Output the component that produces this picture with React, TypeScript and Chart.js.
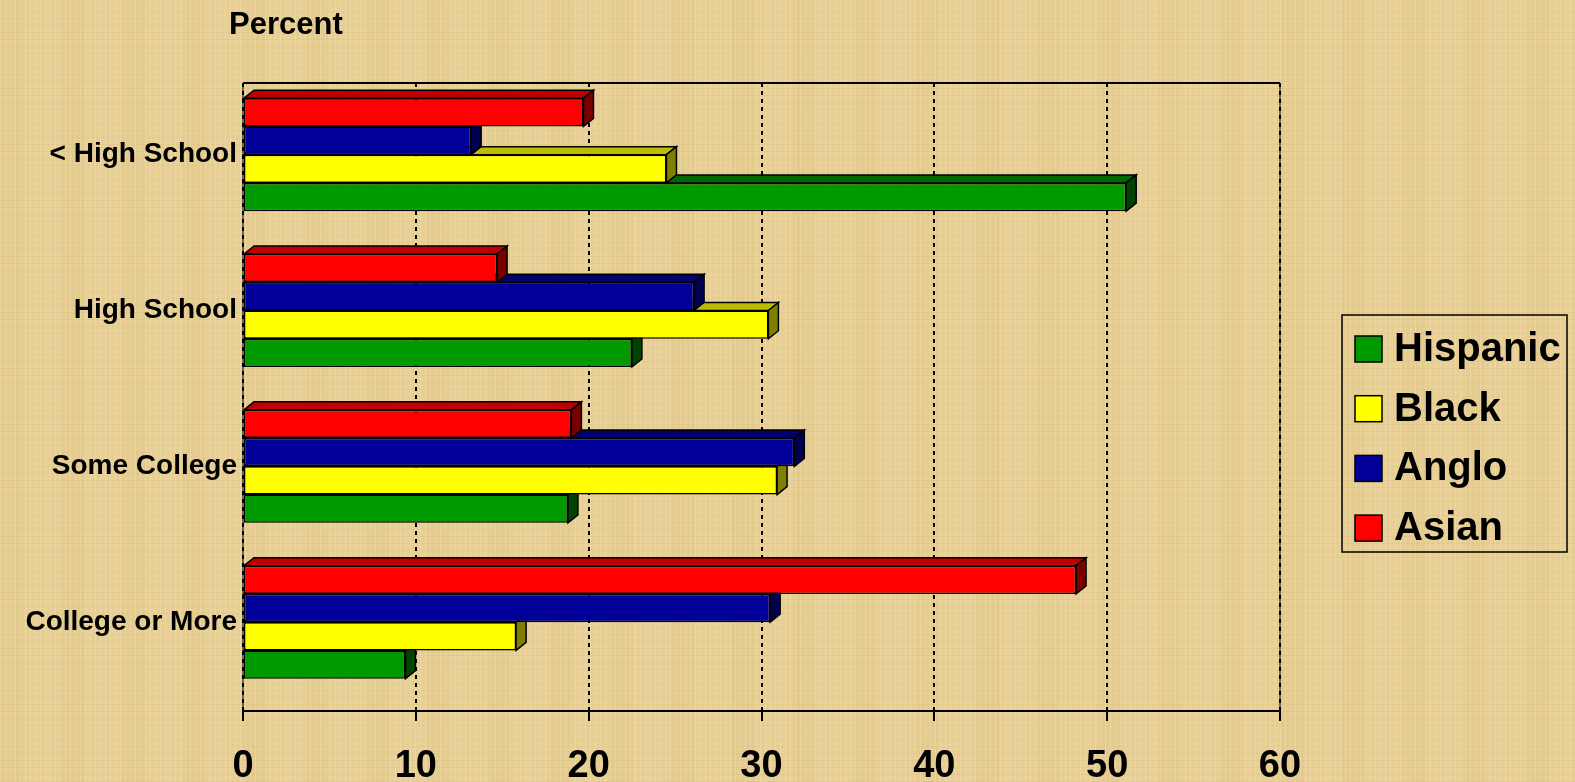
import React, { useEffect, useRef } from "react";
import { Chart, registerables } from "chart.js";

Chart.register(...registerables);

// ---------- data ----------
const categories = ["< High School", "High School", "Some College", "College or More"];
const asianValues = [19.7, 14.7, 19.0, 48.2];
const angloValues = [13.2, 26.1, 31.9, 30.5];
const blackValues = [24.5, 30.4, 30.9, 15.8];
const hispanicValues = [51.1, 22.5, 18.8, 9.4];
const xTickStep = 10;
const xMin = 0;
const xMax = 60;
const axisTitle = "Percent";

const FONT = "'Liberation Sans', Arial, Helvetica, sans-serif";

const seriesStyle: Record<string, { front: string; top: string; side: string }> = {
  Asian: { front: "#FF0000", top: "#C00000", side: "#7A0000" },
  Anglo: { front: "#000099", top: "#000070", side: "#000050" },
  Black: { front: "#FFFF00", top: "#BDBD00", side: "#808000" },
  Hispanic: { front: "#009900", top: "#006800", side: "#004400" },
};

const seriesList: [string, number[]][] = [
  ["Asian", asianValues],
  ["Anglo", angloValues],
  ["Black", blackValues],
  ["Hispanic", hispanicValues],
];

// 3D faces drawn after each dataset, using the bar elements' own geometry
const depthPlugin = {
  id: "depth3d",
  afterDatasetDraw(chart: any, args: any) {
    const meta = args.meta;
    const ds = chart.data.datasets[args.index];
    const st = seriesStyle[ds.label];
    const ctx = chart.ctx;
    const dx = 10;
    const dy = 8;
    ctx.save();
    ctx.lineWidth = 1.5;
    ctx.strokeStyle = "#000";
    meta.data.forEach((el: any) => {
      const { x, y, base, height } = el.getProps(["x", "y", "base", "height"], true);
      const t = y - height / 2;
      const b = y + height / 2;
      ctx.beginPath();
      ctx.moveTo(base, t);
      ctx.lineTo(base + dx, t - dy);
      ctx.lineTo(x + dx, t - dy);
      ctx.lineTo(x, t);
      ctx.closePath();
      ctx.fillStyle = st.top;
      ctx.fill();
      ctx.stroke();
      ctx.beginPath();
      ctx.moveTo(x, t);
      ctx.lineTo(x + dx, t - dy);
      ctx.lineTo(x + dx, b - dy);
      ctx.lineTo(x, b);
      ctx.closePath();
      ctx.fillStyle = st.side;
      ctx.fill();
      ctx.stroke();
    });
    ctx.restore();
  },
};

// plot frame (top solid line, thin sides)
const framePlugin = {
  id: "frame",
  beforeDatasetsDraw(chart: any) {
    const { ctx, chartArea } = chart;
    const { left, right, top, bottom } = chartArea;
    ctx.save();
    ctx.strokeStyle = "#000";
    ctx.lineWidth = 2;
    ctx.beginPath();
    ctx.moveTo(left, top);
    ctx.lineTo(right, top);
    ctx.stroke();
    ctx.lineWidth = 1;
    ctx.beginPath();
    ctx.moveTo(left, top);
    ctx.lineTo(left, bottom);
    ctx.moveTo(right, top);
    ctx.lineTo(right, bottom);
    ctx.stroke();
    ctx.restore();
  },
};

// "Percent" caption and boxed legend
const textPlugin = {
  id: "texts",
  afterDraw(chart: any) {
    const ctx = chart.ctx;
    ctx.save();
    ctx.fillStyle = "#000";
    ctx.font = `bold 31px ${FONT}`;
    ctx.textAlign = "left";
    ctx.textBaseline = "middle";
    ctx.fillText(axisTitle, 229, 25);

    const bx = 1342;
    const by = 315;
    const bw = 225;
    const bh = 237;
    ctx.lineWidth = 1.5;
    ctx.strokeStyle = "#000";
    ctx.strokeRect(bx, by, bw, bh);
    const items = [...chart.data.datasets].reverse();
    const rowGap = 59.7;
    items.forEach((ds: any, i: number) => {
      const cy = by + 34 + i * rowGap;
      const st = seriesStyle[ds.label];
      ctx.fillStyle = st.front;
      ctx.fillRect(1355, cy - 13, 27, 26);
      ctx.lineWidth = 1.5;
      ctx.strokeRect(1355, cy - 13, 27, 26);
      ctx.fillStyle = "#000";
      ctx.font = `bold 40px ${FONT}`;
      ctx.textBaseline = "middle";
      ctx.fillText(ds.label, 1394, cy + 1);
    });
    ctx.restore();
  },
};

export default function App() {
  const canvasRef = useRef<HTMLCanvasElement | null>(null);

  useEffect(() => {
    if (!canvasRef.current) return;
    const chart = new Chart(canvasRef.current, {
      type: "bar",
      data: {
        datasets: seriesList.map(([name, vals]) => ({
          label: name,
          data: vals.map((v, i) => ({ x: v, y: i })),
          backgroundColor: seriesStyle[name].front,
          borderColor: "#000",
          borderWidth: 1.5,
          borderSkipped: false,
          categoryPercentage: 0.725,
          barPercentage: 1.0,
        })),
      },
      plugins: [framePlugin, depthPlugin, textPlugin],
      options: {
        indexAxis: "y",
        animation: false,
        responsive: true,
        maintainAspectRatio: false,
        layout: { padding: { top: 83, right: 295, left: 0, bottom: 0 } },
        plugins: {
          legend: { display: false },
          tooltip: { enabled: false },
          title: { display: false },
        },
        scales: {
          x: {
            type: "linear",
            position: "bottom",
            min: xMin,
            max: xMax,
            ticks: {
              stepSize: xTickStep,
              color: "#000",
              font: { family: FONT, size: 38, weight: "bold" },
              padding: 23,
              maxRotation: 0,
            },
            grid: {
              color: "#000",
              lineWidth: 2,
              drawTicks: true,
              tickLength: 10,
              tickWidth: 2,
              tickColor: "#000",
            },
            border: { display: true, color: "#000", width: 2, dash: [4, 4] },
            afterFit: (scale: any) => {
              scale.height = 71;
            },
          },
          y: {
            type: "linear",
            position: "left",
            reverse: true,
            offset: false,
            min: -0.46,
            max: 3.57,
            afterBuildTicks: (scale: any) => {
              scale.ticks = categories.map((_, i) => ({ value: i }));
            },
            ticks: {
              color: "#000",
              font: { family: FONT, size: 28, weight: "bold" },
              padding: 6,
              autoSkip: false,
              callback: (v: any) => categories[v] ?? "",
            },
            grid: { display: false, drawTicks: false, offset: false },
            border: { display: false },
            afterFit: (scale: any) => {
              scale.width = 243;
            },
          },
        },
      } as any,
    });
    return () => chart.destroy();
  }, []);

  return (
    <div
      style={{
        position: "fixed",
        left: 0,
        top: 0,
        width: 1575,
        height: 782,
        backgroundColor: "#E7CF95",
        backgroundImage:
          "repeating-linear-gradient(90deg, rgba(255,246,215,0.22) 0px, rgba(255,246,215,0.22) 1px, transparent 1px, transparent 5px)," +
          "repeating-linear-gradient(0deg, rgba(190,150,70,0.10) 0px, rgba(190,150,70,0.10) 1px, transparent 1px, transparent 7px)," +
          "repeating-linear-gradient(90deg, rgba(200,160,80,0.08) 0px, rgba(200,160,80,0.08) 23px, transparent 23px, transparent 61px)",
      }}
    >
      <canvas ref={canvasRef} />
    </div>
  );
}
